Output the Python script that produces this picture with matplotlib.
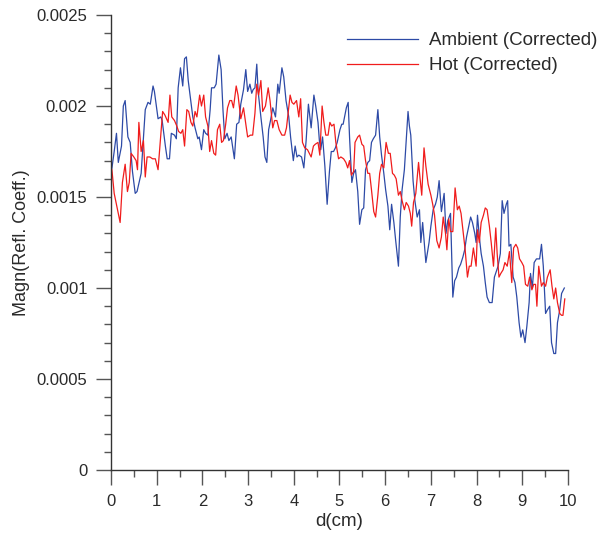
import matplotlib
matplotlib.use("Agg")
import matplotlib.pyplot as plt
from matplotlib.ticker import MultipleLocator, FuncFormatter

plt.rcParams['font.family'] = ['Liberation Sans', 'DejaVu Sans']

# Ambient (Corrected)
amb_d = [0.02, 0.07, 0.12, 0.16, 0.23, 0.27, 0.31, 0.37, 0.42, 0.47, 0.53, 0.57, 0.66, 0.75, 0.81,
         0.86, 0.92, 0.95, 1.03, 1.09, 1.12, 1.19, 1.23, 1.28, 1.32, 1.39, 1.43, 1.47, 1.52, 1.57,
         1.61, 1.65, 1.69, 1.75, 1.79, 1.84, 1.90, 1.93, 1.98, 2.03, 2.07, 2.12, 2.17, 2.20, 2.26,
         2.30, 2.36, 2.41, 2.45, 2.49, 2.54, 2.58, 2.63, 2.70, 2.75, 2.80, 2.84, 2.90, 2.95, 2.99,
         3.04, 3.08, 3.11, 3.15, 3.19, 3.22, 3.28, 3.33, 3.37, 3.41, 3.45, 3.49, 3.54, 3.60, 3.65,
         3.68, 3.74, 3.78, 3.83, 3.89, 3.93, 3.99, 4.03, 4.07, 4.11, 4.17, 4.22, 4.27, 4.32, 4.38,
         4.44, 4.48, 4.53, 4.56, 4.59, 4.63, 4.68, 4.73, 4.78, 4.82, 4.87, 4.91, 4.95, 5.01, 5.05,
         5.08, 5.12, 5.15, 5.19, 5.22, 5.27, 5.31, 5.35, 5.40, 5.44, 5.49, 5.53, 5.57, 5.62, 5.66,
         5.70, 5.74, 5.79, 5.84, 5.88, 5.92, 5.97, 6.01, 6.06, 6.10, 6.14, 6.19, 6.23, 6.29, 6.33,
         6.37, 6.42, 6.46, 6.50, 6.53, 6.56, 6.61, 6.65, 6.70, 6.75, 6.78, 6.82, 6.86, 6.89, 6.96,
         7.00, 7.05, 7.10, 7.14, 7.18, 7.23, 7.29, 7.33, 7.37, 7.43, 7.48, 7.52, 7.56, 7.61, 7.65,
         7.70, 7.74, 7.78, 7.83, 7.87, 7.91, 7.96, 7.99, 8.02, 8.06, 8.10, 8.15, 8.19, 8.23, 8.28,
         8.34, 8.39, 8.43, 8.47, 8.52, 8.56, 8.60, 8.65, 8.68, 8.71, 8.75, 8.80, 8.84, 8.88, 8.93,
         8.97, 9.01, 9.06, 9.10, 9.15, 9.18, 9.22, 9.26, 9.31, 9.35, 9.38, 9.42, 9.46, 9.51, 9.55,
         9.60, 9.64, 9.69, 9.73, 9.77, 9.82, 9.86, 9.92]
amb_m = [1.658, 1.75, 1.85, 1.69, 1.78, 2.00, 2.03, 1.83, 1.80, 1.64, 1.52, 1.53, 1.63, 1.98, 2.02,
         2.01, 2.11, 2.08, 1.93, 1.94, 1.92, 1.78, 1.71, 1.71, 1.85, 1.84, 1.82, 2.10, 2.21, 2.11,
         2.26, 2.27, 2.14, 2.02, 1.94, 1.88, 1.82, 1.83, 1.76, 1.87, 1.85, 1.84, 1.98, 2.10, 2.10,
         2.12, 2.28, 2.20, 1.98, 1.82, 1.85, 1.81, 1.83, 1.71, 1.90, 1.91, 2.01, 2.09, 2.20, 2.08,
         2.12, 2.07, 2.09, 2.10, 2.23, 2.08, 1.94, 1.83, 1.72, 1.69, 1.87, 1.92, 1.99, 1.94, 2.12,
         2.07, 2.21, 2.16, 2.03, 1.94, 1.83, 1.70, 1.78, 1.72, 1.73, 1.72, 1.66, 1.81, 2.01, 1.88,
         2.06, 2.00, 1.91, 1.81, 1.76, 1.83, 1.67, 1.46, 1.64, 1.75, 1.75, 1.77, 1.80, 1.87, 1.90,
         1.90, 1.95, 1.99, 2.02, 1.83, 1.58, 1.63, 1.65, 1.53, 1.35, 1.43, 1.44, 1.65, 1.69, 1.70,
         1.80, 1.82, 1.84, 1.98, 1.83, 1.73, 1.63, 1.54, 1.45, 1.32, 1.46, 1.36, 1.26, 1.12, 1.39,
         1.54, 1.65, 1.81, 1.97, 1.89, 1.84, 1.59, 1.48, 1.39, 1.43, 1.25, 1.36, 1.23, 1.14, 1.25,
         1.34, 1.43, 1.46, 1.50, 1.59, 1.42, 1.52, 1.30, 1.37, 1.41, 0.95, 1.04, 1.06, 1.11, 1.13,
         1.17, 1.21, 1.28, 1.34, 1.39, 1.36, 1.30, 1.25, 1.40, 1.28, 1.19, 1.12, 1.03, 0.95, 0.92,
         0.92, 1.06, 1.09, 1.12, 1.19, 1.48, 1.41, 1.46, 1.48, 1.23, 1.24, 1.06, 1.03, 0.95, 0.81,
         0.73, 0.77, 0.70, 0.79, 0.92, 1.08, 1.00, 1.14, 1.16, 1.16, 1.16, 1.24, 1.12, 0.86, 0.88,
         0.90, 0.70, 0.64, 0.64, 0.81, 0.88, 0.97, 1.00]

# Hot (Corrected)
hot_d = [0.02, 0.07, 0.11, 0.15, 0.20, 0.25, 0.31, 0.36, 0.40, 0.44, 0.50, 0.55, 0.58, 0.61, 0.66,
         0.71, 0.75, 0.79, 0.85, 0.91, 0.97, 1.03, 1.07, 1.13, 1.18, 1.25, 1.29, 1.33, 1.39, 1.44,
         1.48, 1.53, 1.57, 1.61, 1.66, 1.70, 1.75, 1.79, 1.84, 1.88, 1.94, 1.98, 2.03, 2.07, 2.12,
         2.16, 2.20, 2.25, 2.29, 2.33, 2.38, 2.42, 2.46, 2.51, 2.55, 2.60, 2.64, 2.68, 2.74, 2.78,
         2.84, 2.90, 2.95, 2.99, 3.05, 3.10, 3.15, 3.19, 3.23, 3.28, 3.32, 3.38, 3.44, 3.48, 3.54,
         3.58, 3.63, 3.68, 3.74, 3.80, 3.84, 3.92, 3.96, 4.00, 4.06, 4.11, 4.15, 4.19, 4.24, 4.30,
         4.34, 4.38, 4.43, 4.47, 4.53, 4.57, 4.62, 4.66, 4.70, 4.75, 4.79, 4.83, 4.88, 4.92, 4.98,
         5.03, 5.09, 5.14, 5.18, 5.22, 5.26, 5.31, 5.34, 5.40, 5.44, 5.49, 5.53, 5.57, 5.62, 5.66,
         5.70, 5.75, 5.79, 5.84, 5.88, 5.92, 5.97, 6.02, 6.07, 6.11, 6.16, 6.20, 6.24, 6.29, 6.33,
         6.37, 6.42, 6.46, 6.51, 6.55, 6.58, 6.62, 6.67, 6.73, 6.76, 6.80, 6.85, 6.89, 6.94, 7.00,
         7.04, 7.08, 7.13, 7.18, 7.23, 7.27, 7.32, 7.35, 7.39, 7.43, 7.48, 7.53, 7.58, 7.62, 7.66,
         7.71, 7.75, 7.80, 7.84, 7.88, 7.93, 7.96, 7.99, 8.02, 8.06, 8.10, 8.15, 8.19, 8.23, 8.28,
         8.32, 8.37, 8.42, 8.45, 8.49, 8.53, 8.58, 8.62, 8.67, 8.72, 8.77, 8.81, 8.86, 8.90, 8.94,
         8.99, 9.03, 9.07, 9.12, 9.16, 9.21, 9.25, 9.29, 9.32, 9.36, 9.42, 9.46, 9.51, 9.55, 9.61,
         9.65, 9.69, 9.73, 9.77, 9.82, 9.86, 9.89, 9.93]
hot_m = [1.65, 1.52, 1.47, 1.42, 1.36, 1.58, 1.68, 1.53, 1.58, 1.74, 1.72, 1.70, 1.65, 1.91, 1.75,
         1.81, 1.61, 1.72, 1.72, 1.71, 1.71, 1.65, 1.78, 1.97, 1.95, 1.91, 2.06, 1.94, 1.92, 1.89,
         1.86, 1.85, 1.87, 1.78, 1.98, 1.97, 1.91, 1.89, 1.97, 1.94, 2.06, 2.00, 2.06, 1.94, 1.89,
         1.75, 1.81, 1.74, 1.73, 1.87, 1.90, 1.80, 1.81, 1.90, 1.99, 2.03, 2.03, 1.99, 2.11, 2.06,
         1.93, 1.99, 1.90, 1.83, 1.84, 1.84, 1.96, 2.12, 2.06, 2.14, 1.97, 2.00, 2.10, 2.03, 1.88,
         1.92, 1.92, 1.87, 1.84, 1.84, 1.88, 2.06, 2.02, 2.01, 2.03, 1.94, 2.04, 1.80, 1.77, 1.76,
         1.74, 1.72, 1.78, 1.79, 1.80, 1.73, 2.00, 1.91, 1.84, 1.84, 1.91, 1.89, 1.90, 1.80, 1.71,
         1.72, 1.71, 1.69, 1.66, 1.70, 1.62, 1.64, 1.80, 1.83, 1.84, 1.79, 1.78, 1.70, 1.63, 1.63,
         1.54, 1.42, 1.39, 1.51, 1.63, 1.68, 1.66, 1.80, 1.74, 1.74, 1.63, 1.62, 1.60, 1.51, 1.53,
         1.48, 1.43, 1.47, 1.45, 1.41, 1.34, 1.47, 1.52, 1.69, 1.61, 1.51, 1.77, 1.67, 1.57, 1.51,
         1.46, 1.40, 1.26, 1.22, 1.28, 1.39, 1.30, 1.21, 1.38, 1.31, 1.31, 1.55, 1.43, 1.45, 1.41,
         1.30, 1.21, 1.06, 1.12, 1.12, 1.22, 1.17, 1.12, 1.32, 1.25, 1.36, 1.40, 1.44, 1.43, 1.34,
         1.25, 1.12, 1.33, 1.19, 1.06, 1.08, 1.10, 1.14, 1.12, 1.20, 1.03, 1.22, 1.24, 1.22, 1.16,
         1.14, 1.12, 1.02, 1.01, 1.06, 0.99, 1.02, 1.02, 0.90, 1.12, 1.01, 1.03, 1.01, 1.06, 1.10,
         1.01, 0.94, 1.00, 0.92, 0.86, 0.85, 0.85, 0.94]

amb = [v * 1e-3 for v in amb_m]
hot = [v * 1e-3 for v in hot_m]

txt = '#2a2a2a'
fig = plt.figure(figsize=(5.98, 5.36), dpi=100)
ax = fig.add_axes([0.1856, 0.1231, 0.7642, 0.8489])

ax.plot(amb_d, amb, color='#2d4aa6', lw=0.9, label='Ambient (Corrected)')
ax.plot(hot_d, hot, color='#f01c1c', lw=0.9, label='Hot (Corrected)')

ax.set_xlim(0, 10)
ax.set_ylim(0, 0.0025)
ax.xaxis.set_major_locator(MultipleLocator(1))
ax.xaxis.set_minor_locator(MultipleLocator(0.5))
ax.yaxis.set_major_locator(MultipleLocator(0.0005))
ax.yaxis.set_minor_locator(MultipleLocator(0.0001))
ax.yaxis.set_major_formatter(FuncFormatter(lambda v, p: '%g' % round(v, 6)))

for s in ['top', 'right']:
    ax.spines[s].set_visible(False)
for s in ['left', 'bottom']:
    ax.spines[s].set_color('#333333')
    ax.spines[s].set_linewidth(1.0)

ax.tick_params(which='major', direction='out', length=11, width=1.0, color='#555555',
               labelsize=12, labelcolor=txt, pad=6)
ax.tick_params(which='minor', direction='out', length=5, width=1.0, color='#555555')

ax.set_xlabel('d(cm)', fontsize=13.5, color=txt, labelpad=3)
ax.set_ylabel('Magn(Refl. Coeff.)', fontsize=13, color=txt, labelpad=5)

leg = ax.legend(loc='upper left', bbox_to_anchor=(0.516, 0.962), frameon=False, fontsize=13.5,
                handlelength=3.8, handletextpad=0.6, labelspacing=0.42, borderaxespad=0,
                borderpad=0)
for t in leg.get_texts():
    t.set_color(txt)

fig.savefig('out.png', dpi=100)
